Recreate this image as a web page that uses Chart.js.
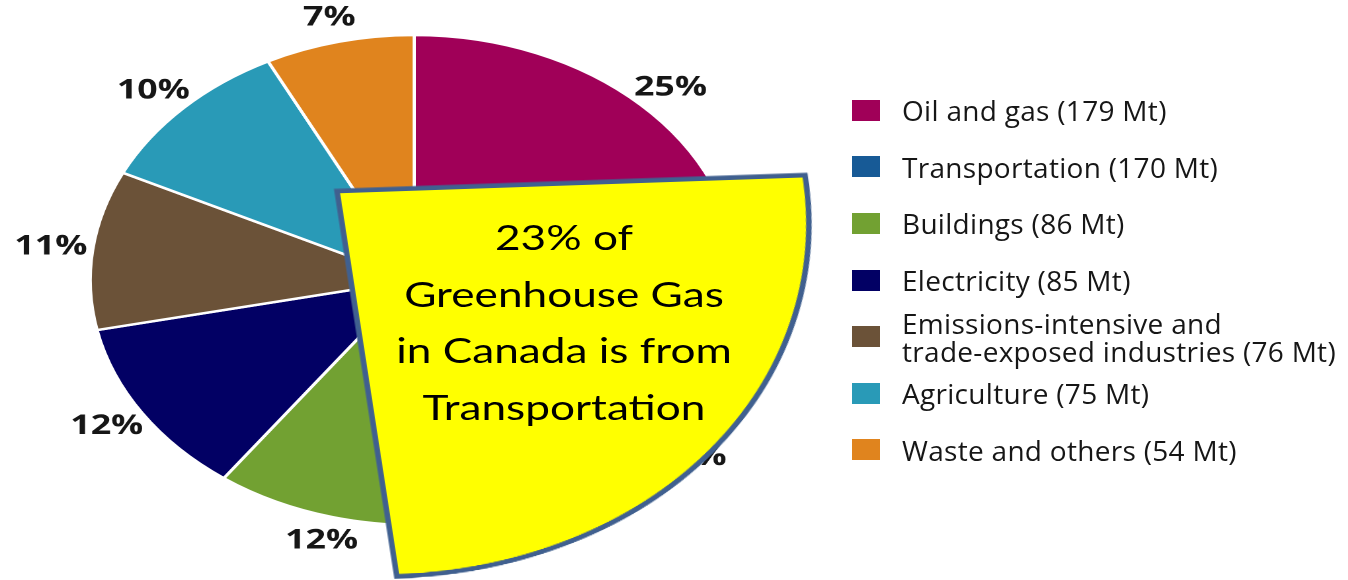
<!DOCTYPE html>
<html>
<head>
<meta charset="utf-8">
<script src="https://cdn.jsdelivr.net/npm/chart.js@4.4.1/dist/chart.umd.min.js"></script>
<style>
    html, body { margin: 0; padding: 0; background: #fff; }
    body { width: 1348px; height: 580px; position: relative; overflow: hidden; font-family: 'Open Sans', sans-serif; }
    #pieBox { position: absolute; left: 0; top: 0; width: 1020px; height: 580px; transform: scaleX(1.3224); transform-origin: 0 0; z-index: 1; }
    #calloutBox { position: absolute; left: 0; top: 0; width: 1000px; height: 1000px; transform: matrix(1, -0.034, 0.1277, 0.8234, 0, 0); z-index: 2; }
    #calloutText { position: absolute; left: 364px; top: 208px; width: 400px; text-align: center; font-family: Lato, sans-serif; font-size: 35px; line-height: 56.7px; color: #000; transform: scaleX(1.262); transform-origin: 50% 0; z-index: 3; }
    #legend { position: absolute; left: 852px; top: 82px; z-index: 3; }
    .row { height: 56.6px; display: flex; align-items: center; }
    .box { width: 28px; height: 21px; flex: none; }
    .txt { margin-left: 22px; font-size: 28px; font-weight: 500; line-height: 28px; color: #161616; white-space: pre-line; letter-spacing: 0.3px; }
</style>
</head>
<body>
<div id="pieBox"><canvas id="pieChart" width="1020" height="580"></canvas></div>
<div id="calloutBox"><canvas id="calloutChart" width="1000" height="1000"></canvas></div>
<div id="calloutText">23% of<br>Greenhouse Gas<br>in Canada is from<br>Transportation</div>
<div id="legend"></div>

<script>
const sectors = ['Oil and gas', 'Transportation', 'Buildings', 'Electricity',
    'Emissions-intensive and\ntrade-exposed industries', 'Agriculture', 'Waste and others'];
const emissionsMt = [179, 170, 86, 85, 76, 75, 54];
const pctLabels = ['25%', '23%', '12%', '12%', '11%', '10%', '7%'];
const sectorColors = ['#A00058', '#175A96', '#72A132', '#020064', '#6B5238', '#299AB7', '#E0841E'];

// percentage labels around the pie
const pctLabelPlugin = {
    id: 'pctLabels',
    afterDatasetsDraw(chart) {
        const ctx = chart.ctx;
        const arcs = chart.getDatasetMeta(0).data;
        ctx.save();
        ctx.font = 'bold 27px "Open Sans"';
        ctx.fillStyle = '#161616';
        ctx.textAlign = 'center';
        ctx.textBaseline = 'middle';
        arcs.forEach((arc, i) => {
            const mid = (arc.startAngle + arc.endAngle) / 2;
            const x = arc.x + Math.cos(mid) * arc.outerRadius * 1.13;
            const y = arc.y + Math.sin(mid) * arc.outerRadius * 1.10;
            ctx.fillText(pctLabels[i], x, y);
        });
        ctx.restore();
    }
};

const pieChart = new Chart(document.getElementById('pieChart'), {
    type: 'pie',
    data: {
        labels: sectors,
        datasets: [{
            data: emissionsMt,
            backgroundColor: sectorColors,
            borderColor: '#ffffff',
            borderWidth: 2.5,
            radius: 245
        }]
    },
    options: {
        responsive: false,
        devicePixelRatio: 2,
        animation: false,
        events: [],
        layout: {
            padding: { left: 0, right: 393.6, top: 0, bottom: 20 }
        },
        plugins: {
            legend: { display: false },
            tooltip: { enabled: false }
        }
    },
    plugins: [pctLabelPlugin]
});

// transportation slice pulled out as the yellow callout
const calloutChart = new Chart(document.getElementById('calloutChart'), {
    type: 'pie',
    data: {
        labels: [sectors[1]],
        datasets: [{
            data: [emissionsMt[1]],
            backgroundColor: '#FFFF00',
            borderColor: '#40608F',
            borderWidth: 5.5,
            borderJoinStyle: 'miter',
            radius: 468
        }]
    },
    options: {
        responsive: false,
        devicePixelRatio: 2,
        animation: false,
        events: [],
        rotation: 90,
        circumference: 90,
        plugins: {
            legend: { display: false },
            tooltip: { enabled: false }
        }
    }
});

const apex = calloutChart.getDatasetMeta(0).data[0];
const calloutBox = document.getElementById('calloutBox');
calloutBox.style.left = (337 - apex.x) + 'px';
calloutBox.style.top = (191 - apex.y) + 'px';
calloutBox.style.transformOrigin = apex.x + 'px ' + apex.y + 'px';

// legend
const legend = document.getElementById('legend');
sectors.forEach((name, i) => {
    const row = document.createElement('div');
    row.className = 'row';
    const box = document.createElement('div');
    box.className = 'box';
    box.style.background = sectorColors[i];
    const txt = document.createElement('div');
    txt.className = 'txt';
    txt.textContent = name + ' (' + emissionsMt[i] + ' Mt)';
    row.appendChild(box);
    row.appendChild(txt);
    legend.appendChild(row);
});
</script>
</body>
</html>
